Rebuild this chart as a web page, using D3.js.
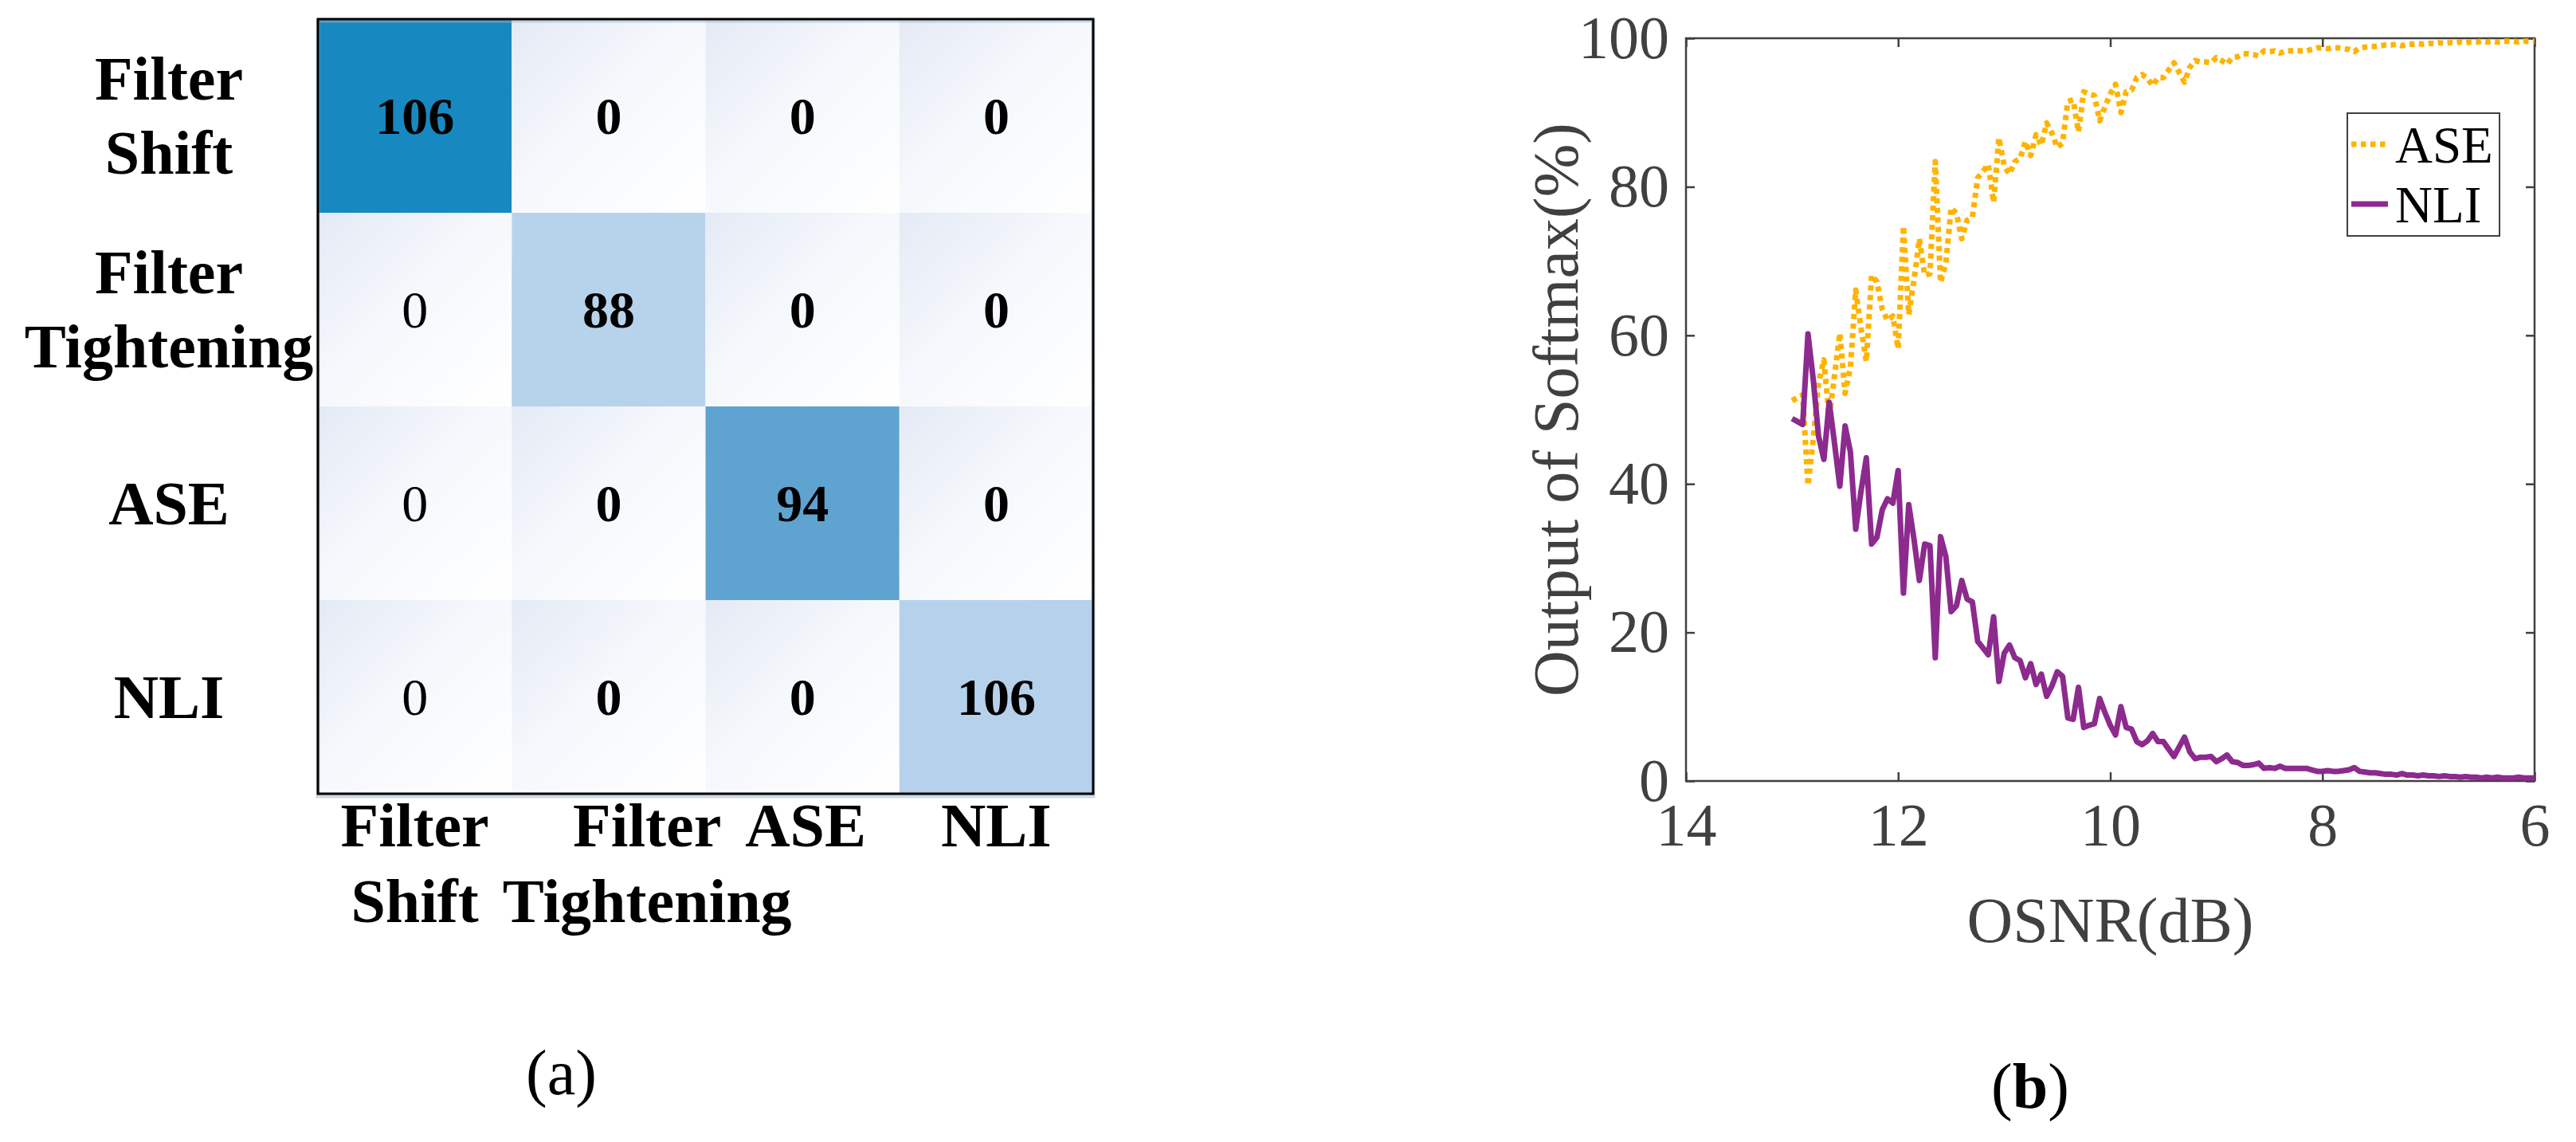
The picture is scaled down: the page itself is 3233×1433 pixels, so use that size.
<!DOCTYPE html>
<html>
<head>
<meta charset="utf-8">
<script src="https://cdn.jsdelivr.net/npm/d3@7"></script>
<style>
body { margin: 0; background: #fff; }
svg { display: block; font-family: 'Liberation Serif', 'Times New Roman', serif; }
</style>
</head>
<body>
<div class="main"></div>
<script>
const W = 3233, H = 1433;

// (a) confusion matrix
const classes = ['Filter Shift', 'Filter Tightening', 'ASE', 'NLI'];
const counts = [
    [106, 0, 0, 0],
    [0, 88, 0, 0],
    [0, 0, 94, 0],
    [0, 0, 0, 106]
];

// (b) softmax output vs OSNR
const osnr = [
    13.00, 12.95, 12.90, 12.85, 12.80, 12.75, 12.70, 12.65, 12.60, 12.55,
    12.50, 12.45, 12.40, 12.35, 12.30, 12.25, 12.20, 12.15, 12.10, 12.05,
    12.00, 11.95, 11.90, 11.85, 11.80, 11.75, 11.70, 11.65, 11.60, 11.55,
    11.50, 11.45, 11.40, 11.35, 11.30, 11.25, 11.20, 11.15, 11.10, 11.05,
    11.00, 10.95, 10.90, 10.85, 10.80, 10.75, 10.70, 10.65, 10.60, 10.55,
    10.50, 10.45, 10.40, 10.35, 10.30, 10.25, 10.20, 10.15, 10.10, 10.05,
    10.00, 9.95, 9.90, 9.85, 9.80, 9.75, 9.70, 9.65, 9.60, 9.55,
    9.50, 9.45, 9.40, 9.35, 9.30, 9.25, 9.20, 9.15, 9.10, 9.05,
    9.00, 8.95, 8.90, 8.85, 8.80, 8.75, 8.70, 8.65, 8.60, 8.55,
    8.50, 8.45, 8.40, 8.35, 8.30, 8.25, 8.20, 8.15, 8.10, 8.05,
    8.00, 7.95, 7.90, 7.85, 7.80, 7.75, 7.70, 7.65, 7.60, 7.55,
    7.50, 7.45, 7.40, 7.35, 7.30, 7.25, 7.20, 7.15, 7.10, 7.05,
    7.00, 6.95, 6.90, 6.85, 6.80, 6.75, 6.70, 6.65, 6.60, 6.55,
    6.50, 6.45, 6.40, 6.35, 6.30, 6.25, 6.20, 6.15, 6.10, 6.05,
    6.00
];
const aseOut = [
    51.2, 51.6, 52.0, 39.8, 46.0, 53.6, 56.7, 49.0, 54.5, 60.3,
    52.2, 55.7, 66.1, 61.0, 56.5, 68.1, 67.2, 63.5, 62.0, 62.6,
    58.2, 74.7, 62.8, 67.5, 73.0, 68.1, 68.3, 83.4, 67.1, 69.8,
    77.2, 76.4, 73.0, 75.5, 75.9, 81.2, 82.1, 83.0, 77.9, 86.6,
    82.8, 81.7, 83.4, 83.8, 86.1, 84.2, 87.0, 85.6, 88.6, 87.2,
    85.3, 85.9, 91.5, 91.7, 87.4, 92.8, 92.5, 92.3, 88.9, 90.8,
    92.5, 93.8, 90.0, 92.8, 93.0, 94.7, 95.1, 94.6, 93.6, 94.7,
    94.7, 95.7, 96.7, 95.4, 94.1, 96.1, 97.0, 96.8, 96.8, 96.7,
    97.4, 97.0, 96.5, 97.4, 97.5, 97.9, 97.9, 97.8, 97.6, 98.3,
    98.2, 98.3, 98.0, 98.3, 98.3, 98.3, 98.3, 98.3, 98.5, 98.7,
    98.7, 98.6, 98.7, 98.7, 98.6, 98.5, 98.2, 98.7, 98.8, 98.9,
    98.9, 99.0, 99.1, 99.1, 99.2, 99.0, 99.2, 99.2, 99.3, 99.2,
    99.3, 99.3, 99.4, 99.3, 99.4, 99.4, 99.5, 99.4, 99.5, 99.5,
    99.6, 99.5, 99.6, 99.5, 99.6, 99.6, 99.6, 99.5, 99.6, 99.6,
    99.6
];
const nliOut = [
    48.8, 48.4, 48.0, 60.2, 54.0, 46.4, 43.3, 51.0, 45.5, 39.7,
    47.8, 44.3, 33.9, 39.0, 43.5, 31.9, 32.8, 36.5, 38.0, 37.4,
    41.8, 25.3, 37.2, 32.5, 27.0, 31.9, 31.7, 16.6, 32.9, 30.2,
    22.8, 23.6, 27.0, 24.5, 24.1, 18.8, 17.9, 17.0, 22.1, 13.4,
    17.2, 18.3, 16.6, 16.2, 13.9, 15.8, 13.0, 14.4, 11.4, 12.8,
    14.7, 14.1, 8.5, 8.3, 12.6, 7.2, 7.5, 7.7, 11.1, 9.2,
    7.5, 6.2, 10.0, 7.2, 7.0, 5.3, 4.9, 5.4, 6.4, 5.3,
    5.3, 4.3, 3.3, 4.6, 5.9, 3.9, 3.0, 3.2, 3.2, 3.3,
    2.6, 3.0, 3.5, 2.6, 2.5, 2.1, 2.1, 2.2, 2.4, 1.7,
    1.8, 1.7, 2.0, 1.7, 1.7, 1.7, 1.7, 1.7, 1.5, 1.3,
    1.3, 1.4, 1.3, 1.3, 1.4, 1.5, 1.8, 1.3, 1.2, 1.1,
    1.1, 1.0, 0.9, 0.9, 0.8, 1.0, 0.8, 0.8, 0.7, 0.8,
    0.7, 0.7, 0.6, 0.7, 0.6, 0.6, 0.5, 0.6, 0.5, 0.5,
    0.4, 0.5, 0.4, 0.5, 0.4, 0.4, 0.4, 0.5, 0.4, 0.4,
    0.4
];
const xTicks = [14, 12, 10, 8, 6];
const yTicks = [0, 20, 40, 60, 80, 100];
const seriesNames = ['ASE', 'NLI'];

const svg = d3.select('.main')
    .append('svg')
    .attr('width', W)
    .attr('height', H)

// ---------- (a) ----------
const mx = d3.scaleBand().domain(classes).range([399, 1372]),
my = d3.scaleBand().domain(classes).range([24, 996]);

const diagFill = d3.scaleOrdinal()
    .domain(classes)
    .range(['#1789c0', '#b7d3ec', '#5fa3d1', '#b6d1eb']);

const grad = svg.append('defs')
    .append('linearGradient')
    .attr('id', 'offcell')
    .attr('x1', 0).attr('y1', 0)
    .attr('x2', 1).attr('y2', 1)
grad.append('stop').attr('offset', 0).attr('stop-color', '#e4eaf5')
grad.append('stop').attr('offset', 0.45).attr('stop-color', '#f5f8fc')
grad.append('stop').attr('offset', 1).attr('stop-color', '#ffffff')

const cells = counts.flatMap((row, i) => row.map((v, j) => ({ r: classes[i], c: classes[j], i, j, v })));

const matrix = svg.append('g').attr('class', 'matrix')

matrix.selectAll('rect.cell')
    .data(cells)
    .enter()
    .append('rect')
    .attr('class', 'cell')
    .attr('x', d => mx(d.c))
    .attr('y', d => my(d.r))
    .attr('width', mx.bandwidth())
    .attr('height', my.bandwidth())
    .attr('fill', d => d.i === d.j ? diagFill(d.r) : 'url(#offcell)')

matrix.selectAll('text.val')
    .data(cells)
    .enter()
    .append('text')
    .attr('class', 'val')
    .attr('x', d => mx(d.c) + mx.bandwidth() / 2)
    .attr('y', d => my(d.r) + my.bandwidth() / 2)
    .attr('dy', '0.34em')
    .attr('text-anchor', 'middle')
    .attr('font-size', 66)
    // first-column zeros are printed in regular weight in the original
    .attr('font-weight', d => (d.j === 0 && d.i !== 0) ? 'normal' : 'bold')
    .text(d => d.v)

// frame with a faint shadow
matrix.append('rect')
    .attr('x', 399).attr('y', 26)
    .attr('width', 973).attr('height', 973)
    .attr('fill', 'none')
    .attr('stroke', '#9fb4c8')
    .attr('stroke-opacity', 0.5)
    .attr('stroke-width', 5)
matrix.append('rect')
    .attr('x', 399).attr('y', 24)
    .attr('width', 973).attr('height', 972)
    .attr('fill', 'none')
    .attr('stroke', '#000')
    .attr('stroke-width', 3)

const lineGap = 93;
const rowLabels = matrix.selectAll('text.rowlab')
    .data(classes)
    .enter()
    .append('text')
    .attr('class', 'rowlab')
    .attr('text-anchor', 'middle')
    .attr('font-size', 78)
    .attr('font-weight', 'bold')
rowLabels.each(function (c) {
    const lines = c.split(' ');
    const first = my(c) + my.bandwidth() / 2 + 26 - (lines.length - 1) * lineGap / 2;
    d3.select(this).selectAll('tspan')
        .data(lines)
        .enter()
        .append('tspan')
        .attr('x', 212)
        .attr('y', (l, k) => first + k * lineGap)
        .text(l => l)
})

const colLabels = matrix.selectAll('text.collab')
    .data(classes)
    .enter()
    .append('text')
    .attr('class', 'collab')
    .attr('text-anchor', 'middle')
    .attr('font-size', 78)
    .attr('font-weight', 'bold')
colLabels.selectAll('tspan')
    .data(c => c.split(' '))
    .enter()
    .append('tspan')
    .attr('y', (l, k) => 1062 + k * 95)
    .text(l => l)

// push the column captions apart where two lines would collide
const colX = classes.map(c => mx(c) + mx.bandwidth() / 2);
const widths = [];
colLabels.each(function () {
    widths.push(d3.select(this).selectAll('tspan').nodes().map(n => n.getComputedTextLength()));
})
for (let j = 1; j < classes.length; j++) {
    let shift = 0;
    const n = Math.min(widths[j].length, widths[j - 1].length);
    for (let k = 0; k < n; k++) {
        const over = (colX[j - 1] + widths[j - 1][k] / 2 + 30) - (colX[j] - widths[j][k] / 2);
        shift = Math.max(shift, over);
    }
    colX[j] += shift;
}
colLabels.each(function (c, j) {
    d3.select(this).selectAll('tspan').attr('x', colX[j])
})

svg.append('text')
    .attr('x', (mx.range()[0] + mx.range()[1]) / 2 - 181)
    .attr('y', 1373)
    .attr('text-anchor', 'middle')
    .attr('font-size', 80)
    .text('(a)')

// ---------- (b) ----------
const axisColor = '#404040';
const x = d3.scaleLinear().domain([14, 6]).range([2116, 3181]),
y = d3.scaleLinear().domain([0, 100]).range([980, 48]);

const plot = svg.append('g').attr('class', 'plot')

const styleAxis = g => {
    g.select('.domain').remove()
    g.selectAll('line').attr('stroke', axisColor).attr('stroke-width', 2.5)
    g.selectAll('text')
        .attr('fill', axisColor)
        .attr('font-size', 76)
        .attr('font-family', "'Liberation Serif', 'Times New Roman', serif")
}

plot.append('g')
    .attr('transform', `translate(0, ${y(0)})`)
    .call(d3.axisBottom(x).tickValues(xTicks).tickSize(-11).tickPadding(27))
    .call(styleAxis)
plot.append('g')
    .attr('transform', `translate(0, ${y(100)})`)
    .call(d3.axisTop(x).tickValues(xTicks).tickSize(-11).tickFormat(''))
    .call(styleAxis)
plot.append('g')
    .attr('transform', `translate(${x(14)}, 0)`)
    .call(d3.axisLeft(y).tickValues(yTicks).tickSize(-11).tickPadding(21))
    .call(styleAxis)
plot.append('g')
    .attr('transform', `translate(${x(6)}, 0)`)
    .call(d3.axisRight(y).tickValues(yTicks).tickSize(-11).tickFormat(''))
    .call(styleAxis)

plot.append('rect')
    .attr('x', x(14)).attr('y', y(100))
    .attr('width', x(6) - x(14)).attr('height', y(0) - y(100))
    .attr('fill', 'none')
    .attr('stroke', axisColor)
    .attr('stroke-width', 2.5)

const color = d3.scaleOrdinal().domain(seriesNames).range(['#ffb300', '#8c2a8e']);
const dash = d3.scaleOrdinal().domain(seriesNames).range(['6.5,5.5', null]);

const line = d3.line()
    .x(d => x(d[0]))
    .y(d => y(d[1]))

const series = [
    { name: 'ASE', values: osnr.map((o, i) => [o, aseOut[i]]) },
    { name: 'NLI', values: osnr.map((o, i) => [o, nliOut[i]]) }
];

plot.selectAll('path.series')
    .data(series)
    .enter()
    .append('path')
    .attr('class', 'series')
    .attr('d', d => line(d.values))
    .attr('fill', 'none')
    .attr('stroke', d => color(d.name))
    .attr('stroke-width', 7)
    .attr('stroke-dasharray', d => dash(d.name))
    .attr('stroke-linejoin', 'round')

// legend
const lg = plot.append('g')
    .attr('transform', `translate(${x(6) - 235}, ${y(100) + 94})`)
lg.append('rect')
    .attr('width', 191).attr('height', 154)
    .attr('fill', '#fff')
    .attr('stroke', axisColor)
    .attr('stroke-width', 2)
const item = lg.selectAll('g.item')
    .data(seriesNames)
    .enter()
    .append('g')
    .attr('class', 'item')
    .attr('transform', (d, i) => `translate(0, ${39 + i * 75})`)
item.append('line')
    .attr('x1', 5).attr('x2', 51)
    .attr('stroke', d => color(d))
    .attr('stroke-width', 7)
    .attr('stroke-dasharray', d => dash(d))
item.append('text')
    .attr('x', 60)
    .attr('y', 23)
    .attr('font-size', 65)
    .attr('fill', '#000')
    .text(d => d)

plot.append('text')
    .attr('transform', `translate(1980, ${(y(0) + y(100)) / 2}) rotate(-90)`)
    .attr('text-anchor', 'middle')
    .attr('font-size', 80)
    .attr('fill', axisColor)
    .text('Output of Softmax(%)')

plot.append('text')
    .attr('x', (x(14) + x(6)) / 2)
    .attr('y', 1182)
    .attr('text-anchor', 'middle')
    .attr('font-size', 80)
    .attr('fill', axisColor)
    .text('OSNR(dB)')

const tagB = svg.append('text')
    .attr('x', 2548)
    .attr('y', 1390)
    .attr('text-anchor', 'middle')
    .attr('font-size', 80)
tagB.append('tspan').text('(')
tagB.append('tspan').attr('font-weight', 'bold').text('b')
tagB.append('tspan').text(')')
</script>
</body>
</html>
